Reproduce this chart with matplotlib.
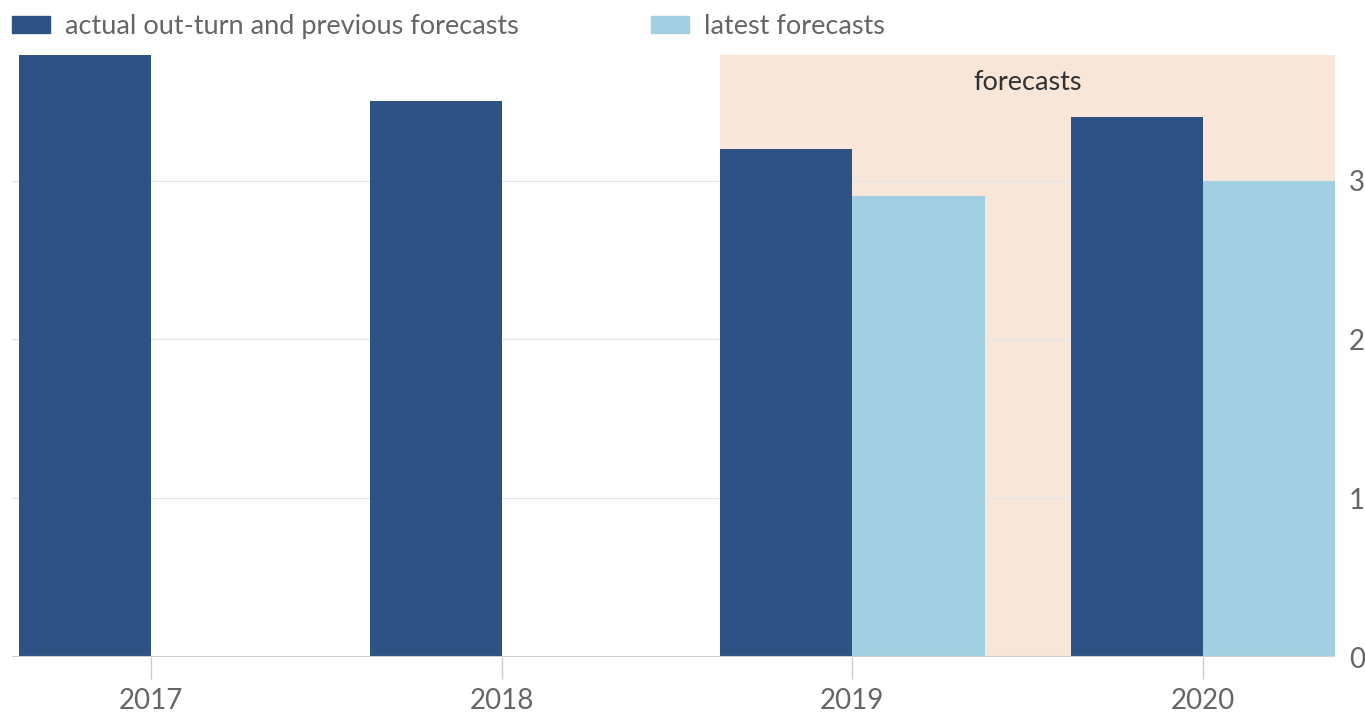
import numpy as np
import matplotlib
matplotlib.use("Agg")
import matplotlib.pyplot as plt
from matplotlib.patches import Patch

plt.rcParams['font.family'] = ['Lato', 'DejaVu Sans']

years = ['2017', '2018', '2019', '2020']
actual_prev = [3.8, 3.5, 3.2, 3.4]        # actual out-turn and previous forecasts
latest = [np.nan, np.nan, 2.9, 3.0]       # latest forecasts
yticks = [0, 1, 2, 3]

dark = '#2e5283'
light = '#a2cfe2'
shade = '#f8e6d8'
txt = '#666666'

fig = plt.figure(figsize=(13.65, 7.15), dpi=100)
ax = fig.add_axes([0.0088, 0.081, 0.9693, 0.842])

w = 0.377
x = np.arange(len(years))

# forecast shading, starting at the 2019 bar
ax.axvspan(2 - w, 3 + w, color=shade, zorder=1, lw=0)
ax.text(2.5, 3.62, 'forecasts', ha='center', va='center', fontsize=19.5, color='#333333', zorder=4)

ax.bar(x - w / 2, actual_prev, width=w, color=dark, zorder=3)
ax.bar(x + w / 2, latest, width=w, color=light, zorder=3)

ax.set_xlim(-0.397, 3 + w)
ax.set_ylim(0, 3.79)

ax.set_xticks(x)
ax.set_xticklabels(years)
ax.set_yticks(yticks)
ax.yaxis.tick_right()
ax.grid(axis='y', color='#e6e6e6', lw=1, zorder=0)
ax.axhline(0, color='#d0d0d0', lw=1.5, zorder=5)

for s in ax.spines.values():
    s.set_visible(False)
ax.tick_params(axis='x', length=16, width=1, color='#cccccc', labelsize=20, labelcolor=txt, pad=6)
ax.tick_params(axis='y', length=0, labelsize=20, labelcolor=txt, pad=10)

handles = [Patch(color=dark, label='actual out-turn and previous forecasts'),
           Patch(color=light, label='latest forecasts')]
fig.legend(handles=handles, loc='upper left', bbox_to_anchor=(12 / 1365, 1 - 14 / 715), ncol=2,
           frameon=False, fontsize=19.5, labelcolor=txt, handlelength=1.4, handleheight=0.6,
           handletextpad=0.55, columnspacing=4.9, borderpad=0, borderaxespad=0)

fig.savefig('out.png', dpi=100, facecolor='white')
